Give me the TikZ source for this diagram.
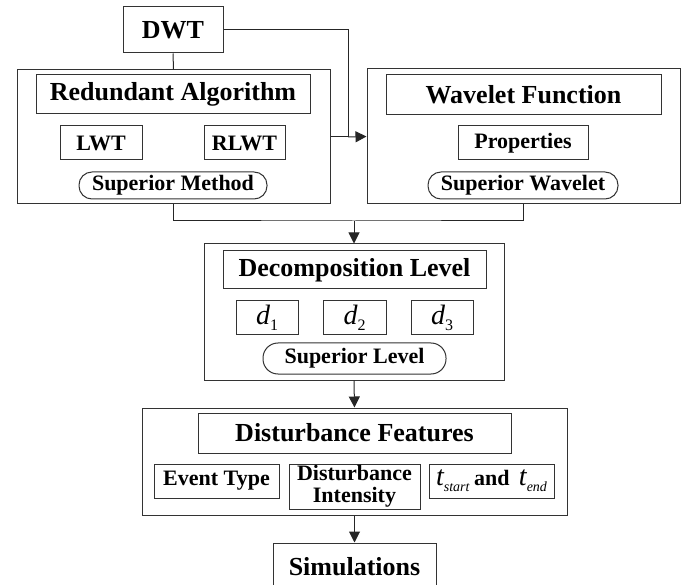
\documentclass[tikz,border=0pt]{standalone}
\usepackage{fontspec}
\setmainfont{Liberation Serif}
\usetikzlibrary{arrows.meta}
\newcommand{\bigtxt}{\fontsize{26}{28}\selectfont\bfseries}
\newcommand{\smalltxt}{\fontsize{22}{22}\selectfont\bfseries}
\newcommand{\subtxt}{\fontsize{16}{16}\selectfont}
\begin{document}
\begin{tikzpicture}[x=1pt,y=-1pt,
  line width=1pt,
  frame/.style={draw=black!80,inner sep=0pt,minimum width=#1},
  bigbox/.style={frame=#1,font=\bigtxt},
  smallbox/.style={frame=#1,font=\smalltxt},
  pill/.style={frame=#1,font=\smalltxt,rounded corners=13pt},
  conn/.style={draw=black!85},
  arr/.style={conn,-{Triangle[length=11pt,width=11pt]}}]
\useasboundingbox (0,0) rectangle (699,585);
\clip (0,0) rectangle (699,585);

% top source
\node[bigbox=100pt,minimum height=46pt] (dwt) at (173,30) {DWT};

% left group: redundant algorithm
\node[frame=313pt,minimum height=134pt] (left) at (173.5,137) {};
\node[bigbox=274pt,minimum height=39pt] (ra) at (173,94.5) {Redundant Algorithm};
\node[smallbox=82pt,minimum height=34pt] (lwt) at (101,143) {LWT};
\node[smallbox=81pt,minimum height=34pt] (rlwt) at (244.5,143) {RLWT};
\node[pill=188pt,minimum height=27pt] (sm) at (173,185.5) {Superior Method};

% right group: wavelet function
\node[frame=313pt,minimum height=135pt] (right) at (523.5,136.5) {};
\node[bigbox=275pt,minimum height=40pt] (wf) at (523.5,95) {Wavelet Function};
\node[smallbox=130pt,minimum height=34pt] (prop) at (523,143) {Properties};
\node[pill=190pt,minimum height=27pt] (sw) at (523,185.5) {Superior Wavelet};

% decomposition level group
\node[frame=300pt,minimum height=136pt] (dec) at (354,312) {};
\node[bigbox=263pt,minimum height=38pt] (dl) at (354.5,270) {Decomposition Level};
\node[frame=62pt,minimum height=34pt] (d1) at (267,318)
  {\fontsize{28}{28}\selectfont\itshape d\raisebox{-0.5ex}{\subtxt\upshape 1}};
\node[frame=63pt,minimum height=34pt] (d2) at (354.5,318)
  {\fontsize{28}{28}\selectfont\itshape d\raisebox{-0.5ex}{\subtxt\upshape 2}};
\node[frame=62pt,minimum height=34pt] (d3) at (442,318)
  {\fontsize{28}{28}\selectfont\itshape d\raisebox{-0.5ex}{\subtxt\upshape 3}};
\node[pill=183pt,minimum height=31pt,rounded corners=15pt] (sl) at (354.5,358.5) {Superior Level};

% disturbance features group
\node[frame=425pt,minimum height=107pt] (feat) at (354.5,461.5) {};
\node[bigbox=313pt,minimum height=40pt] (df) at (354.5,433) {Disturbance Features};
\node[smallbox=125pt,minimum height=34pt] (et) at (216.5,481) {Event Type};
\node[smallbox=131pt,minimum height=45pt,align=center] (di) at (354.5,486.5)
  {Disturbance\\[0pt]Intensity};
\node[frame=125pt,minimum height=34pt] (tt) at (491.5,481)
  {\fontsize{28}{28}\selectfont\itshape t\raisebox{-0.45ex}{\fontsize{14}{14}\selectfont start}\,%
   {\smalltxt\upshape and}\,\,t\raisebox{-0.45ex}{\fontsize{14}{14}\selectfont end}};

% final stage
\node[bigbox=163pt,minimum height=47pt] (sim) at (354.5,566.5) {Simulations};

% connectors
\coordinate (j) at (348,137);
\coordinate (m) at (354,221);
\draw[conn] (dwt.south) -- (left.north);
\draw[conn] (dwt.east) -| (j);
\draw[conn] (left.east) -- (j);
\draw[arr] (j) -- (right.west);
\draw[conn] (left.south) |- (m) -| (right.south);
\draw[arr] (m) -- (dec.north);
\draw[arr] (dec.south) -- (feat.north);
\draw[arr] (feat.south) -- (sim.north);
\end{tikzpicture}
\end{document}
